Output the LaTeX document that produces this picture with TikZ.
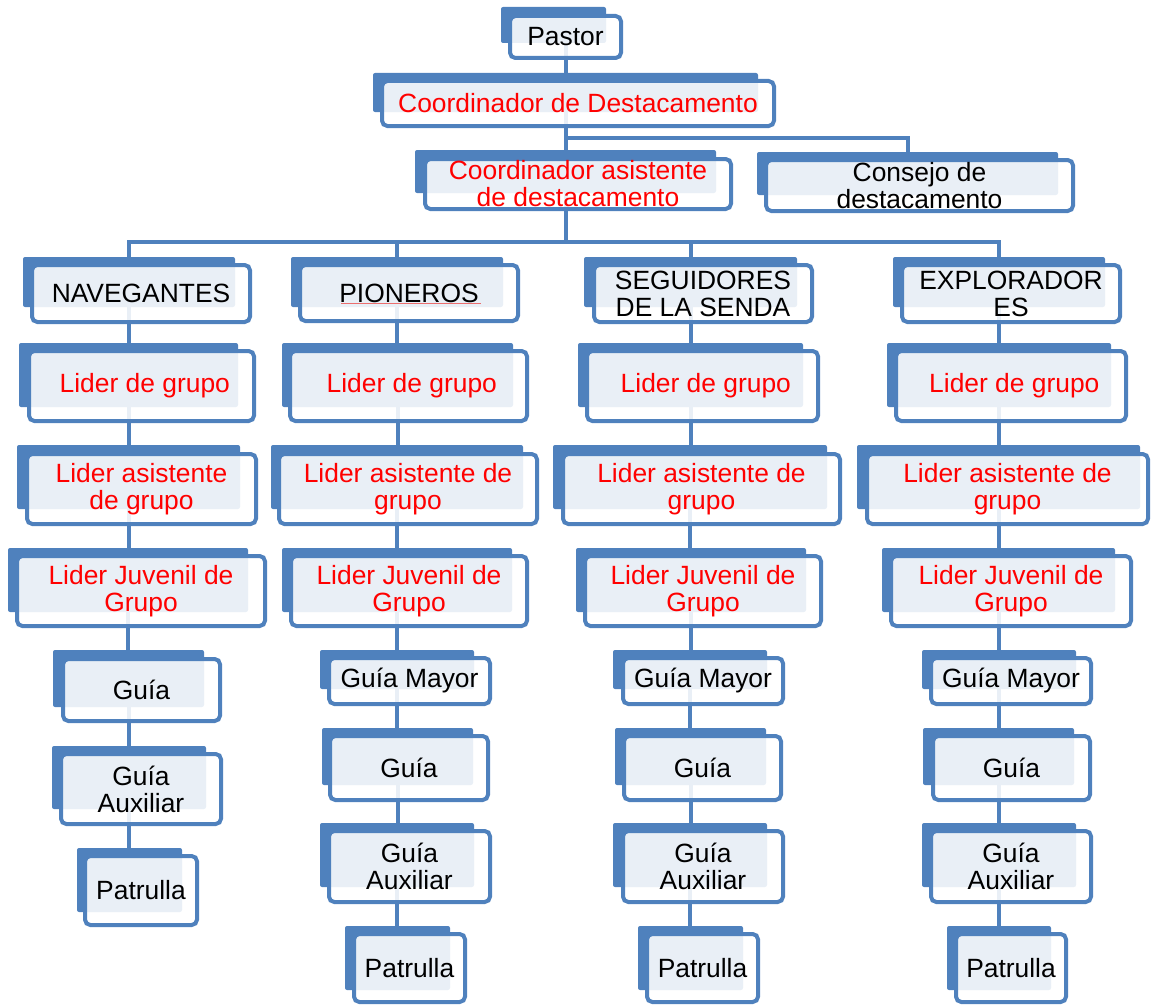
\documentclass[tikz,border=0pt]{standalone}
\usepackage{fontspec}
\setmainfont{Liberation Sans}
\pgfdeclarelayer{bg}
\pgfsetlayers{bg,main}
\definecolor{bk}{RGB}{79,129,189}
\definecolor{rd}{RGB}{255,0,0}
\definecolor{spell}{RGB}{235,110,110}
\def\osplit#1,#2,#3,#4\relax{\def\oxa{#1}\def\oya{#2}\def\oxb{#3}\def\oyb{#4}}
% #1 name, #2 back rect x1,y1,x2,y2 ; #3 front rect (outer) x1,y1,x2,y2 ; #4 style ; #5 text
\newcommand\obox[5]{%
  \osplit#2\relax
  \pgfmathsetmacro\obw{(\oxb-\oxa)*0.75}%
  \pgfmathsetmacro\obh{(\oyb-\oya)*0.75}%
  \pgfmathsetmacro\obx{(\oxa+\oxb)/2}%
  \pgfmathsetmacro\oby{(\oya+\oyb)/2}%
  \node[backbox,minimum width=\obw pt,minimum height=\obh pt] (#1) at (\obx,\oby) {};
  \osplit#3\relax
  \pgfmathsetmacro\obw{(\oxb-\oxa-4)*0.75}%
  \pgfmathsetmacro\obh{(\oyb-\oya-4)*0.75}%
  \pgfmathsetmacro\obx{(\oxa+\oxb)/2}%
  \pgfmathsetmacro\oby{(\oya+\oyb)/2}%
  \node[frontbox,#4,minimum width=\obw pt,minimum height=\obh pt] (#1-t) at (\obx,\oby) {#5};
}
\tikzset{
  backbox/.style={fill=bk,draw=none,rounded corners=1.5pt,inner sep=0pt,outer sep=0pt},
  frontbox/.style={draw=bk,line width=3pt,fill=white,fill opacity=0.88,text opacity=1,
    rounded corners=4pt,inner sep=1pt,outer sep=0pt,align=center,text=black,
    font=\fontsize{19.8}{20.3}\selectfont},
  redtxt/.style={text=rd},
  conn/.style={draw=bk,line width=3pt},
}
\begin{document}
\begin{tikzpicture}[x=0.75pt,y=-0.75pt]
\useasboundingbox (0,0) rectangle (1152,1006);
% top
\obox{pastor}{501,7,606,43}{508,14,623,60}{}{Pastor}
\obox{coord}{373,73,758,112}{380,79,776,128}{redtxt}{Coordinador de Destacamento}
\obox{asist}{415,150,716,193}{423,157,733,211}{redtxt}{Coordinador asistente\\de destacamento}
\obox{consejo}{757,152,1058,195}{764,158,1075,213}{}{Consejo de\\destacamento}
% column 1
\obox{nav}{23,257,235,307}{30,263,252,324}{}{NAVEGANTES}
\obox{lgA}{19,343,238,407}{27,349,256,423}{redtxt}{\hspace*{5pt}Lider de grupo}
\obox{laA}{17,445,240,509}{25,452,258,526}{redtxt}{Lider asistente\\de grupo}
\obox{ljA}{8,548,248,612}{15,554,267,628}{redtxt}{Lider Juvenil de\\Grupo}
\obox{guA}{53,650,204,707}{61,657,222,723}{}{Guía}
\obox{gxA}{52,746,206,809}{59,752,223,826}{}{Guía\\Auxiliar}
\obox{paA}{77,848,182,912}{83,854,199,927}{}{Patrulla}
% column 2
\obox{pio}{291,257,503,307}{298,263,520,323}{}{PIONEROS}
\obox{lgB}{282,343,513,407}{288,349,529,423}{redtxt}{\hspace*{5pt}Lider de grupo}
\obox{laB}{271,445,523,509}{277,452,539,526}{redtxt}{Lider asistente de\\grupo}
\obox{ljB}{282,548,512,612}{289,554,529,628}{redtxt}{Lider Juvenil de\\Grupo}
\obox{gmB}{320,650,474,689}{327,656,492,706}{}{Guía Mayor}
\obox{guB}{322,728,473,785}{328,734,490,802}{}{Guía}
\obox{gxB}{320,823,474,887}{327,829,492,904}{}{Guía\\Auxiliar}
\obox{paB}{345,926,450,990}{352,932,467,1004}{}{Patrulla}
% column 3
\obox{seg}{584,257,797,307}{592,263,814,324}{}{SEGUIDORES\\DE LA SENDA}
\obox{lgC}{578,343,803,407}{585,349,820,423}{redtxt}{\hspace*{5pt}Lider de grupo}
\obox{laC}{553,445,827,509}{561,452,842,526}{redtxt}{Lider asistente de\\grupo}
\obox{ljC}{576,548,806,612}{583,554,823,628}{redtxt}{Lider Juvenil de\\Grupo}
\obox{gmC}{613,650,767,689}{621,656,785,706}{}{Guía Mayor}
\obox{guC}{615,728,766,785}{622,734,783,802}{}{Guía}
\obox{gxC}{613,823,767,887}{621,829,785,904}{}{Guía\\Auxiliar}
\obox{paC}{638,926,743,990}{645,932,760,1004}{}{Patrulla}
% column 4
\obox{exp}{893,257,1105,307}{900,263,1122,324}{}{EXPLORADOR\\ES}
\obox{lgD}{887,343,1111,407}{894,349,1128,423}{redtxt}{\hspace*{5pt}Lider de grupo}
\obox{laD}{857,445,1140,509}{865,452,1150,526}{redtxt}{Lider asistente de\\grupo}
\obox{ljD}{882,548,1115,612}{889,554,1133,628}{redtxt}{Lider Juvenil de\\Grupo}
\obox{gmD}{922,650,1076,689}{929,656,1093,706}{}{Guía Mayor}
\obox{guD}{923,728,1074,785}{931,734,1092,802}{}{Guía}
\obox{gxD}{922,823,1076,887}{929,829,1093,904}{}{Guía\\Auxiliar}
\obox{paD}{947,926,1051,990}{954,932,1068,1004}{}{Patrulla}
% spell-check underline under PIONEROS
\draw[spell,line width=0.45pt] (pio-t.center) ++(-68,10.5) -- ++(140,0);
% connectors
\begin{pgfonlayer}{bg}
\coordinate (j1) at (565.5,137.5);
\coordinate (j2) at (565.5,242);
\draw[conn] (pastor.center -| coord.center) -- (coord.center);
\draw[conn] (coord.center) -- (asist.center);
\draw[conn] (j1) -| (consejo.center);
\draw[conn] (asist.center) -- (j2);
\draw[conn] (j2) -| (nav.center);
\draw[conn] (j2) -| (pio.center);
\draw[conn] (j2) -| (seg.center);
\draw[conn] (j2) -| (exp.center);
\foreach \a/\b in {nav/lgA,lgA/laA,laA/ljA,ljA/guA,guA/gxA,gxA/paA,
                   pio/lgB,lgB/laB,laB/ljB,ljB/gmB,gmB/guB,guB/gxB,gxB/paB,
                   seg/lgC,lgC/laC,laC/ljC,ljC/gmC,gmC/guC,guC/gxC,gxC/paC,
                   exp/lgD,lgD/laD,laD/ljD,ljD/gmD,gmD/guD,guD/gxD,gxD/paD}
  \draw[conn] (\a.center) -- (\a.center |- \b.center);
\end{pgfonlayer}
\end{tikzpicture}
\end{document}
